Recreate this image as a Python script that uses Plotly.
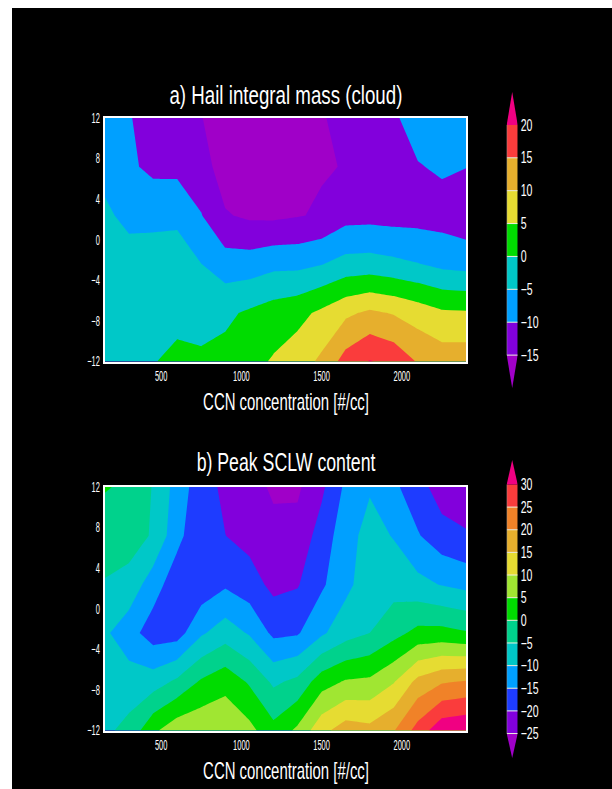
import json
import plotly.graph_objects as go

W, H = 612, 789
ccn = [150, 300, 450, 600, 750, 900, 1050, 1200, 1350, 1500, 1650, 1800, 1950, 2100, 2250, 2400]
yvals = [-12, -7.2, -2.4, 2.4, 7.2, 12]

hail = [
    [-1.5, -1.2, -0.2, 1.0, 1.18, 1.4, 3.4, 5.5, 7.5, 11, 17, 20.3, 18.5, 14.6, 12.8, 12.95],
    [-2, -2, -1.5, -1.2, -2.6, -0.9, 0.7, 2.3, 3.5, 6, 9, 10.9, 9.6, 7.7, 5.75, 5.5],
    [-2.5, -3.5, -3.7, -3.6, -4.95, -7.7, -7.6, -6.3, -6.3, -5.2, -3.25, -3, -3.8, -4.8, -6.25, -6.8],
    [-4.4, -5.9, -5.7, -5.6, -9.8, -14.6, -15.8, -16, -15.3, -14.4, -11.75, -11.6, -11.9, -11.9, -12.05, -13.2],
    [-6, -9, -11.4, -11.5, -13, -17.3, -18, -19, -18.5, -15.4, -14.8, -14, -13.5, -10.3, -9.3, -9.9],
    [-8, -9.7, -12, -13.5, -14.8, -18, -19, -20, -19, -15.5, -13, -12.5, -10.7, -7.7, -7, -7.5],
]
sclw = [
    [-6, -3.5, 4, 8.25, 8.95, 9.1, 6.5, 1.6, 6, 13.5, 17.5, 16.5, 19.7, 27, 33.6, 34.6],
    [-8, -7.7, -7.4, -4, 0.7, 3.3, -0.6, -5.9, -3.8, 2.8, 5.5, 6, 9.7, 16.5, 19.5, 20.4],
    [-9.2, -13, -17.5, -17.2, -10.7, -7.3, -10.5, -16.1, -15.5, -10.8, -7.1, -5, -1.7, 1.5, 1.7, 0.5],
    [-5.3, -6.74, -12.7, -18, -18.2, -15.7, -17.8, -21.3, -20.4, -15.8, -11.3, -7.3, -6.9, -8.5, -10.3, -11.5],
    [-3, -2.8, -5.5, -13.5, -19, -19.95, -21.6, -23.5, -23.3, -17.9, -12, -8.2, -10.3, -14.6, -18, -19.5],
    [0.4, -1, -5.3, -12, -18, -21, -23, -25.8, -25.8, -21, -14, -10.5, -14, -18, -22.5, -23],
]
hail_levels = [-15, -10, -5, 0, 5, 10, 15, 20]
sclw_levels = [-25, -20, -15, -10, -5, 0, 5, 10, 15, 20, 25, 30]
hail_colors = ["#a000c8", "#8200dc", "#00a0ff", "#00c8c8", "#00dc00", "#e6dc32", "#e6af2d", "#fa3c3c", "#f00082"]
sclw_colors = ["#a000c8", "#8200dc", "#1e3cff", "#00a0ff", "#00c8c8", "#00d28c", "#00dc00", "#a0e632",
               "#e6dc32", "#e6af2d", "#f08228", "#fa3c3c", "#f00082"]
x_ticks = [500, 1000, 1500, 2000]
y_ticks = [-12, -8, -4, 0, 4, 8, 12]
titles = ["a) Hail integral mass (cloud)", "b) Peak SCLW content"]
x_title = "CCN concentration [#/cc]"

FONT = "Liberation Sans, sans-serif"
fig = go.Figure()
def xd(a, b): return [a / W, b / W]
def yd(top, bottom): return [1 - bottom / H, 1 - top / H]

panels = [
    dict(z=hail, lv=hail_levels, col=hail_colors, top=118, bot=361.5, ctop=92, cbot=388, ext=1.0, title=titles[0], ty=95, xty=402),
    dict(z=sclw, lv=sclw_levels, col=sclw_colors, top=487, bot=730.5, ctop=460, cbot=758, ext=1.08, title=titles[1], ty=463, xty=771),
]
layout = {}
annotations = []
for i, p in enumerate(panels):
    a = i * 2 + 1
    b = a + 1
    lv, col = p["lv"], p["col"]
    step = lv[1] - lv[0]
    xa, ya = f"x{a}", f"y{a}"
    xb, yb = f"x{b}", f"y{b}"
    n = len(col)
    fig.add_trace(go.Contour(
        x=ccn, y=yvals, z=p["z"], xaxis=xa, yaxis=ya, showscale=False, hoverinfo="skip",
        autocontour=False,
        contours=dict(coloring="fill", start=lv[0], end=lv[-1], size=step, showlines=False),
        line=dict(width=0, smoothing=0),
        colorscale=[[k / (n - 1), c] for k, c in enumerate(col)],
    ))
    axis_font = dict(family=FONT, size=11, color="white")
    layout[f"xaxis{a}"] = dict(domain=xd(105, 466), range=[150, 2400], tickvals=x_ticks, anchor=ya, automargin=False,
                               showgrid=False, zeroline=False, showline=True, mirror=True, linecolor="white",
                               linewidth=2, ticks="", tickfont=axis_font, ticklabelstandoff=3)
    layout[f"yaxis{a}"] = dict(domain=yd(p["top"], p["bot"]), range=[-12, 12], tickvals=y_ticks, anchor=xa, automargin=False,
                               showgrid=False, zeroline=False, showline=True, mirror=True, linecolor="white",
                               linewidth=2, ticks="", tickfont=axis_font, ticklabelstandoff=1)
    # colour key with pointed ends
    lo = lv[0] - p["ext"] * step
    hi = lv[-1] + p["ext"] * step
    for k in range(1, n - 1):
        fig.add_trace(go.Bar(x=[0], y=[step], base=[lv[k - 1]], width=[1], marker=dict(color=col[k], line=dict(width=0)),
                             xaxis=xb, yaxis=yb, showlegend=False, hoverinfo="skip"))
    fig.add_trace(go.Scatter(x=[-0.5, 0.5, 0, -0.5], y=[lv[0], lv[0], lo, lv[0]], fill="toself", fillcolor=col[0],
                             mode="none", xaxis=xb, yaxis=yb, showlegend=False, hoverinfo="skip"))
    fig.add_trace(go.Scatter(x=[-0.5, 0.5, 0, -0.5], y=[lv[-1], lv[-1], hi, lv[-1]], fill="toself", fillcolor=col[-1],
                             mode="none", xaxis=xb, yaxis=yb, showlegend=False, hoverinfo="skip"))
    sx, sy = [], []
    for l in lv[:-1]:
        sx += [-0.5, 0.5, None]
        sy += [l, l, None]
    fig.add_trace(go.Scatter(x=sx, y=sy, mode="lines", line=dict(color="#f0f0e0", width=1), xaxis=xb, yaxis=yb,
                             showlegend=False, hoverinfo="skip"))
    fig.add_trace(go.Scatter(x=[-0.5, -0.5], y=[lv[0], lv[-1]], mode="lines", line=dict(color="#a0a0a0", width=1),
                             xaxis=xb, yaxis=yb, showlegend=False, hoverinfo="skip"))
    layout[f"xaxis{b}"] = dict(domain=xd(506.7, 517.7), range=[-0.5, 0.5], visible=False, anchor=yb, automargin=False)
    layout[f"yaxis{b}"] = dict(domain=yd(p["ctop"], p["cbot"]), range=[lo, hi], side="right", anchor=xb, automargin=False,
                               tickvals=lv, showgrid=False, zeroline=False, showline=False, ticks="",
                               tickfont=dict(family=FONT, size=12, color="white"), ticklabelstandoff=2)
    annotations.append(dict(text=p["title"], x=285.5 / W, y=1 - p["ty"] / H, xref="paper", yref="paper",
                            showarrow=False, xanchor="center", yanchor="middle",
                            font=dict(family=FONT, size=22, color="white")))
    annotations.append(dict(text=x_title, x=285.5 / W, y=1 - p["xty"] / H, xref="paper", yref="paper",
                            showarrow=False, xanchor="center", yanchor="middle",
                            font=dict(family=FONT, size=18, color="white")))

fig.update_layout(
    template="none",
    width=W, height=H, margin=dict(l=0, r=0, t=0, b=0, autoexpand=False), paper_bgcolor="white", plot_bgcolor="black",
    showlegend=False, barmode="overlay", annotations=annotations,
    shapes=[dict(type="rect", xref="paper", yref="paper", x0=12 / W, x1=1, y0=0, y1=1 - 8 / H,
                 fillcolor="black", line=dict(width=0), layer="below")],
    **layout,
)

# The reference lettering is tall and narrow: stretch the real text elements.
title_widths = {titles[0]: 233, titles[1]: 179, x_title: 166}
post = """
document.body.style.margin='0';
var TW = %s;
function stretch(el, sx, sy, ax) {
  var b = el.getBBox();
  var cx = ax === 'r' ? b.x + b.width : (ax === 'l' ? b.x : b.x + b.width / 2);
  var cy = b.y + b.height / 2;
  var t = el.getAttribute('transform') || '';
  el.setAttribute('transform', t + ' translate(' + cx + ',' + cy + ') scale(' + sx + ',' + sy + ') translate(' + (-cx) + ',' + (-cy) + ')');
}
document.querySelectorAll('.annotation-text').forEach(function (el) {
  var w = TW[el.textContent];
  var sy = el.textContent.indexOf('CCN') === 0 ? 1.3 : 1.15;
  stretch(el, w / el.getBBox().width, sy, 'c');
});
document.querySelectorAll('svg text').forEach(function (el) {
  var g = el.parentNode.getAttribute('class') || '';
  var c = (el.getAttribute('class') || '') + ' ' + g;
  if (/\\bx\\d*tick\\b/.test(c)) { stretch(el, 0.68, 1.25, 'c'); }
  else if (/\\by\\d*tick\\b/.test(c)) {
    if (el.getAttribute('text-anchor') === 'start') { stretch(el, 0.88, 1.35, 'l'); }
    else { stretch(el, 0.68, 1.25, 'r'); }
  }
});
""" % json.dumps(title_widths)
fig.write_html("out.html", post_script=post, config=dict(displayModeBar=False))
